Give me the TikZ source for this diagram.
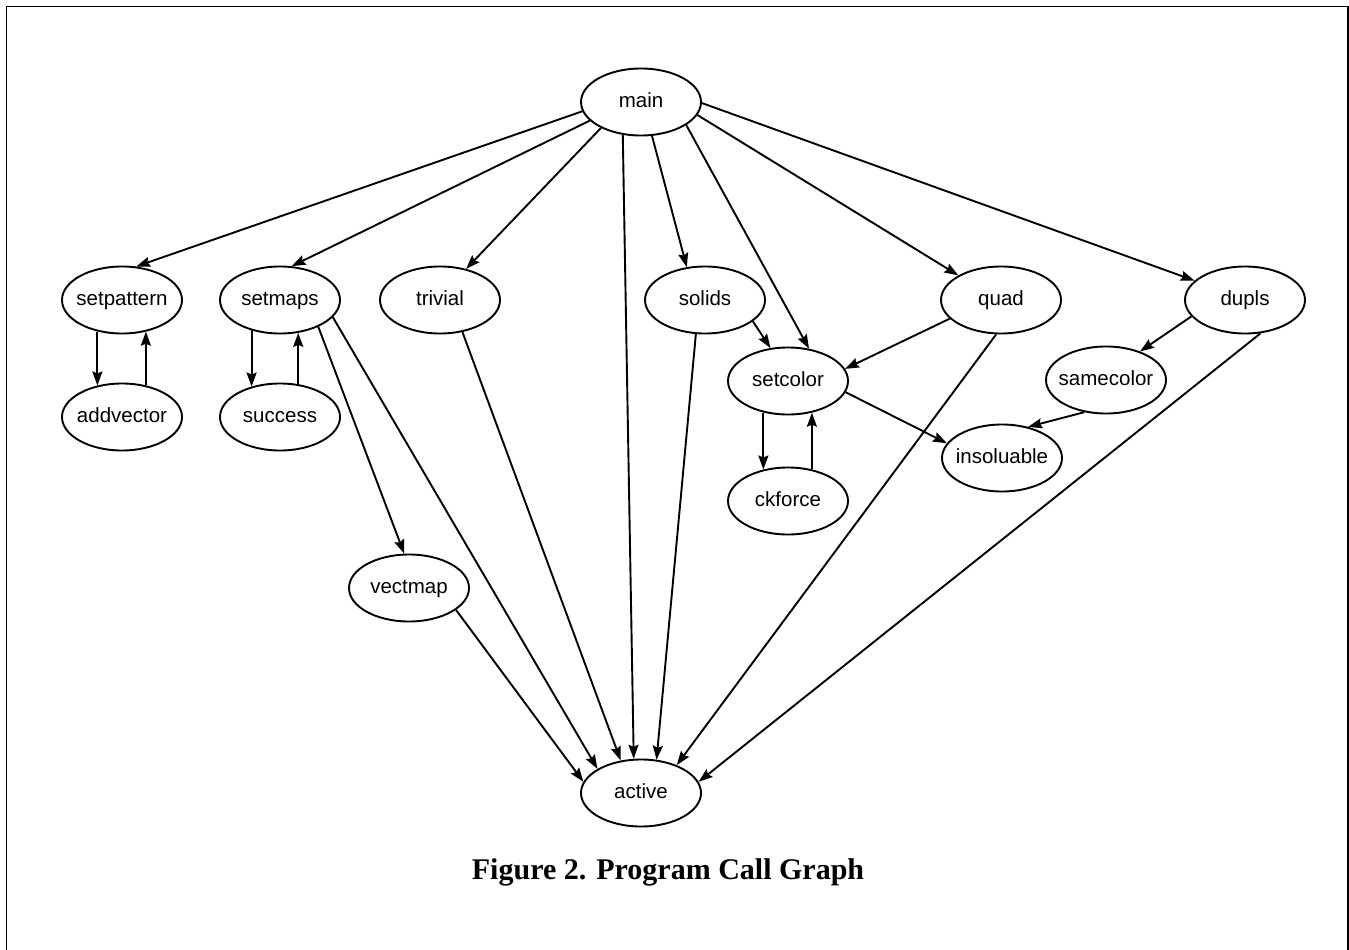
\documentclass[tikz,border=0pt]{standalone}
\usepackage{fontspec}
\setmainfont{Liberation Sans}
\newfontfamily\capfont{Liberation Serif}
\usetikzlibrary{shapes.geometric,arrows.meta}
\newcommand\lbl[1]{\makebox[0pt]{#1}}
\tikzset{
  fn/.style={ellipse, draw, line width=1.9pt, minimum width=120pt, minimum height=67pt,
    inner sep=0pt, text height=10.4pt, text depth=0pt, font=\fontsize{20.5}{24}\selectfont},
  call/.style={line width=1.9pt, -{Stealth[length=14pt,width=10pt,inset=2pt]}},
}
\begin{document}
\begin{tikzpicture}[x=1pt,y=-1pt]
\useasboundingbox (0,0) rectangle (1349,950);
\draw[line width=1.5pt] (6.5,960) -- (6.5,6.5) -- (1348.2,6.5) -- (1348.2,960);

\node[fn] (main) at (641,102) {\lbl{main}};
\node[fn] (setpattern) at (122,300) {\lbl{setpattern}};
\node[fn] (addvector) at (122,417) {\lbl{addvector}};
\node[fn] (setmaps) at (280,300) {\lbl{setmaps}};
\node[fn] (success) at (280,417) {\lbl{success}};
\node[fn] (trivial) at (440,300) {\lbl{trivial}};
\node[fn] (solids) at (705,300) {\lbl{solids}};
\node[fn] (setcolor) at (788,381) {\lbl{setcolor}};
\node[fn] (ckforce) at (788,501) {\lbl{ckforce}};
\node[fn] (quad) at (1001,300) {\lbl{quad}};
\node[fn] (dupls) at (1245,300) {\lbl{dupls}};
\node[fn] (samecolor) at (1106,380) {\lbl{samecolor}};
\node[fn] (insoluable) at (1002,458) {\lbl{insoluable}};
\node[fn] (vectmap) at (409,588) {\lbl{vectmap}};
\node[fn] (active) at (641,793) {\lbl{active}};

\draw[call] (main.189) -- (setpattern.67);
\draw[call] (main.200) -- (setmaps.71);
\draw[call] (main.213) -- (trivial.50);
\draw[call] (main.241) -- (active.102);
\draw[call] (main.288) -- (solids.119);
\draw[call] (main.333) -- (setcolor.57);
\draw[call] (main.347) -- (quad.150);
\draw[call] (main.359) -- (dupls.159);
\draw[call] (setpattern.232) -- (addvector.128);
\draw[call] (addvector.53) -- (setpattern.307);
\draw[call] (setmaps.227) -- (success.133);
\draw[call] (success.61) -- (setmaps.299);
\draw[call] (setmaps.325) -- (vectmap.98);
\draw[call] (setmaps.342) -- (active.151);
\draw[call] (trivial.305) -- (active.122);
\draw[call] (solids.336) -- (setcolor.118);
\draw[call] (solids.255) -- (active.65);
\draw[call] (quad.200) -- (setcolor.12);
\draw[call] (quad.262) -- (active.38);
\draw[call] (dupls.197) -- (samecolor.40);
\draw[call] (dupls.295) -- (active.11);
\draw[call] (samecolor.236) -- (insoluable.50);
\draw[call] (setcolor.349) -- (insoluable.165);
\draw[call] (setcolor.232) -- (ckforce.128);
\draw[call] (ckforce.53) -- (setcolor.307);
\draw[call] (vectmap.335) -- (active.169);

\node[anchor=base, inner sep=0pt, font=\capfont\bfseries\fontsize{30}{36}\selectfont] (caption) at (668,879) {Figure 2. Program Call Graph};
\end{tikzpicture}
\end{document}
